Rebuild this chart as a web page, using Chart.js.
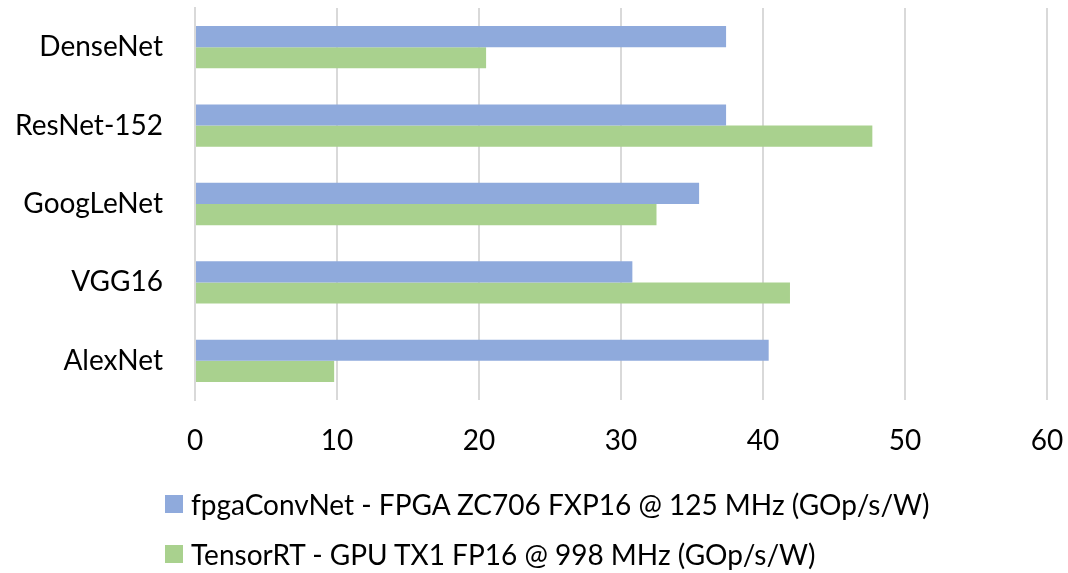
<!DOCTYPE html>
<html>
<head>
<meta charset="utf-8">
<script src="https://cdn.jsdelivr.net/npm/chart.js@4/dist/chart.umd.min.js"></script>
<style>
  html, body { margin: 0; padding: 0; background: #fff; }
  #wrap { position: relative; width: 1068px; height: 573px; }
  canvas { display: block; }
  #legend { position: absolute; left: 165px; top: 479px; font-family: Lato, "Open Sans", sans-serif; font-size: 28px; color: #000; }
  .item { display: flex; align-items: center; height: 50px; }
  .sw { width: 18px; height: 18px; margin-right: 8px; }
</style>
</head>
<body>
<div id="wrap">
  <canvas id="c" width="1068" height="573"></canvas>
  <div id="legend"></div>
</div>
<script>
const categories = ["DenseNet", "ResNet-152", "GoogLeNet", "VGG16", "AlexNet"];
const fpgaValues = [37.4, 37.4, 35.5, 30.8, 40.4];
const tensorValues = [20.5, 47.7, 32.5, 41.9, 9.8];
const seriesNames = [
  "fpgaConvNet - FPGA ZC706 FXP16 @ 125 MHz (GOp/s/W)",
  "TensorRT - GPU TX1 FP16 @ 998 MHz (GOp/s/W)"
];
const colors = ["#8FAADC", "#A9D18E"];
const xTicks = [0, 10, 20, 30, 40, 50, 60];

const font = { family: "Lato, 'Open Sans', sans-serif", size: 28 };

new Chart(document.getElementById("c"), {
  type: "bar",
  data: {
    labels: categories,
    datasets: [
      { label: seriesNames[0], data: fpgaValues, backgroundColor: colors[0], barPercentage: 1, categoryPercentage: 0.54 },
      { label: seriesNames[1], data: tensorValues, backgroundColor: colors[1], barPercentage: 1, categoryPercentage: 0.54 }
    ]
  },
  options: {
    indexAxis: "y",
    responsive: false,
    animation: false,
    layout: { padding: { top: 8, right: 21, bottom: 113, left: 0 } },
    plugins: { legend: { display: false }, tooltip: { enabled: false } },
    scales: {
      x: {
        min: 0, max: 60,
        afterBuildTicks: s => { s.ticks = xTicks.map(v => ({ value: v })); },
        afterFit: s => { s.height = 60; s.paddingLeft = 0; s.paddingRight = 0; },
        grid: { color: "#D9D9D9", lineWidth: 2, drawTicks: false },
        border: { display: false },
        ticks: { font: font, color: "#000", padding: 24 }
      },
      y: {
        afterFit: s => { s.width = 195; s.paddingTop = 0; s.paddingBottom = 0; },
        grid: { display: false, drawTicks: false },
        border: { color: "#D9D9D9", width: 2 },
        ticks: { font: font, color: "#000", padding: 32 }
      }
    }
  }
});

const lg = document.getElementById("legend");
seriesNames.forEach((n, i) => {
  const d = document.createElement("div");
  d.className = "item";
  const sw = document.createElement("span");
  sw.className = "sw";
  sw.style.background = colors[i];
  const t = document.createElement("span");
  t.textContent = n;
  d.appendChild(sw); d.appendChild(t);
  lg.appendChild(d);
});
</script>
</body>
</html>
